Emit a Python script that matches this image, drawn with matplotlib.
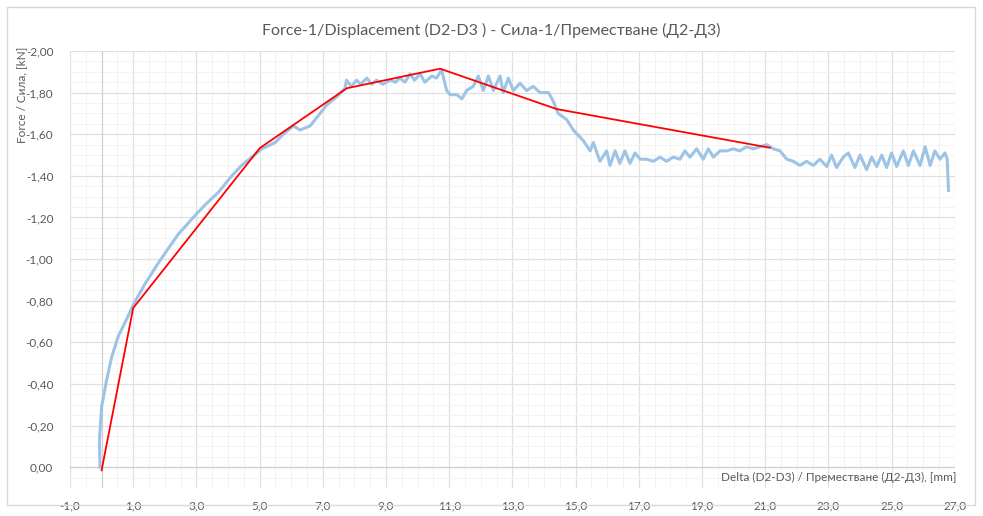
import matplotlib.pyplot as plt
from matplotlib.ticker import MultipleLocator, FuncFormatter
from matplotlib.patches import Rectangle

plt.rcParams['font.family'] = ['Lato', 'DejaVu Sans']

# measured curve (blue), force in kN (negative = compression)
disp = [-0.05, -0.07, 0.0, 0.16, 0.32, 0.53, 0.79, 1.0, 1.37, 1.79, 2.06, 2.43, 2.96, 3.27,
        3.69, 4.12, 4.43, 4.75, 5.07, 5.49, 5.75, 6.07, 6.28, 6.6, 6.81, 7.12, 7.44, 7.70,
        7.75, 7.9, 8.07, 8.2, 8.39, 8.55, 8.7, 8.9, 9.13, 9.3, 9.44, 9.6, 9.76, 9.9, 10.08,
        10.23, 10.45, 10.6, 10.76, 10.92,
        11.03, 11.24, 11.4, 11.55, 11.76, 11.92, 12.08, 12.24, 12.4, 12.61, 12.71, 12.87,
        13.03, 13.24, 13.45, 13.66, 13.87, 14.14, 14.29, 14.45, 14.72, 14.93, 15.24, 15.46,
        15.56, 15.77, 15.98, 16.09, 16.25, 16.4, 16.56, 16.72, 16.88, 17.04, 17.25, 17.46,
        17.67, 17.88, 18.09, 18.3, 18.46, 18.62, 18.83, 19.04, 19.2, 19.36, 19.57, 19.78,
        19.99, 20.2, 20.41, 20.62, 20.84, 21.05, 21.26, 21.47, 21.68, 21.89, 22.1, 22.31,
        22.52, 22.73, 22.95, 23.1, 23.26, 23.47, 23.63, 23.84, 24.0, 24.21, 24.37, 24.53,
        24.69, 24.84, 25.0, 25.16, 25.37, 25.53, 25.69, 25.9, 26.06, 26.22, 26.37, 26.53,
        26.69, 26.76, 26.8]
force = [0.0, -0.13, -0.29, -0.42, -0.53, -0.63, -0.71, -0.78, -0.88, -0.98, -1.04, -1.12,
         -1.21, -1.26, -1.32, -1.40, -1.45, -1.49, -1.53, -1.56, -1.60, -1.64, -1.62, -1.64,
         -1.68, -1.74, -1.78, -1.82,
         -1.86, -1.83, -1.86, -1.84, -1.87, -1.84, -1.86, -1.84, -1.86, -1.85, -1.87, -1.85,
         -1.89, -1.86, -1.89, -1.85, -1.88, -1.87, -1.91, -1.81,
         -1.79, -1.79, -1.77, -1.81, -1.83, -1.88, -1.81,
         -1.88, -1.81, -1.88, -1.80, -1.87, -1.81, -1.845, -1.81, -1.83, -1.80, -1.80, -1.76,
         -1.70, -1.67, -1.62, -1.57, -1.52, -1.56, -1.47, -1.52, -1.45, -1.52, -1.46, -1.52,
         -1.46, -1.51, -1.48, -1.48, -1.47, -1.49, -1.47, -1.49, -1.48, -1.52, -1.49, -1.53,
         -1.48, -1.53, -1.49, -1.52, -1.52, -1.53, -1.52, -1.54, -1.53, -1.54, -1.55, -1.53,
         -1.52, -1.48, -1.47, -1.45, -1.47, -1.45, -1.48, -1.445, -1.50, -1.44, -1.49, -1.51,
         -1.44, -1.50, -1.43, -1.49, -1.445, -1.50, -1.44, -1.51, -1.445, -1.52, -1.45, -1.52,
         -1.45, -1.54, -1.45, -1.52, -1.48, -1.51, -1.48, -1.33]

# multilinear approximation (red)
fit_disp = [0.0, 1.0, 5.01, 7.76, 10.71, 14.40, 21.15]
fit_force = [0.015, -0.765, -1.534, -1.821, -1.915, -1.721, -1.535]

grey = '#595959'


def comma(v, digits):
    if abs(v) < 1e-9:
        v = 0.0
    return f'{v:.{digits}f}'.replace('.', ',')


fig = plt.figure(figsize=(9.83, 5.16), dpi=100)
ax = fig.add_axes([70 / 983, 1 - 488 / 516, (954.8 - 70) / 983, 437 / 516])

ax.plot(disp, force, color='#9dc3e6', linewidth=2.2, zorder=3)
ax.plot(fit_disp, fit_force, color='#ff0000', linewidth=1.3, zorder=4)

ax.set_xlim(-1, 27)
ax.set_ylim(0.1, -2.0)

ax.xaxis.set_minor_locator(MultipleLocator(0.5))
ax.set_xticks([-1 + 2 * k for k in range(15)])
ax.yaxis.set_minor_locator(MultipleLocator(0.05))
ax.set_yticks([-0.2 * k for k in range(11)])

ax.xaxis.set_major_formatter(FuncFormatter(lambda v, p: comma(v, 1)))
ax.yaxis.set_major_formatter(FuncFormatter(lambda v, p: comma(v, 2)))

ax.grid(which='major', color='#e0e0e0', linewidth=0.9)
ax.grid(which='minor', color='#f3f3f3', linewidth=0.7)
ax.set_axisbelow(True)
ax.tick_params(which='both', length=0, colors=grey, labelsize=8.5)
ax.tick_params(axis='x', pad=9)
ax.tick_params(axis='y', pad=12)
for s in ax.spines.values():
    s.set_visible(False)

# axes crossing at zero
ax.axhline(0, color='#d0d0d0', linewidth=0.9, zorder=2)
ax.axvline(0, color='#d0d0d0', linewidth=0.9, zorder=2)

ax.text(1.002, 0.023, 'Delta (D2-D3) / Преместване (Д2-Д3), [mm]', transform=ax.transAxes,
        ha='right', va='center', fontsize=8.5, color=grey)
fig.text(22 / 983, 1 - 95 / 516, 'Force / Сила, [kN]', rotation=90, ha='center', va='center',
         fontsize=8.5, color=grey)
fig.text(491 / 983, 1 - 30 / 516, 'Force-1/Displacement (D2-D3 ) - Сила-1/Преместване (Д2-Д3)',
         ha='center', va='center', fontsize=11.5, color=grey)

fig.patches.append(Rectangle((7 / 983, 11 / 516), 968 / 983, 498 / 516, transform=fig.transFigure,
                             fill=False, edgecolor='#d9d9d9', linewidth=1))

fig.savefig('out.png', dpi=100)
